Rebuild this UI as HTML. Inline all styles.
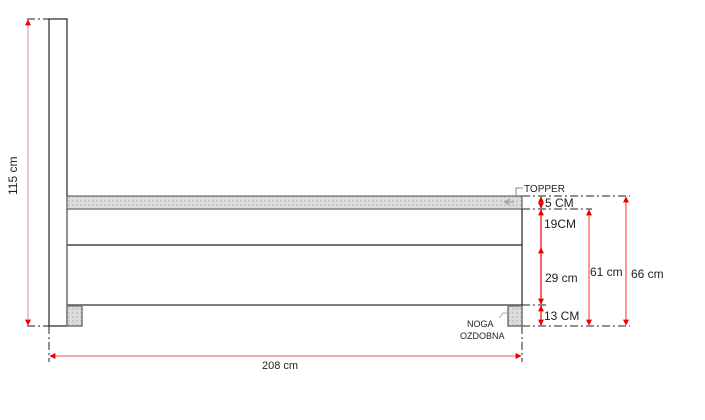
<!DOCTYPE html>
<html><head><style>body{margin:0;background:#fff}svg{display:block}text{font-family:"Liberation Sans",sans-serif}</style></head>
<body>
<svg width="705" height="420" viewBox="0 0 705 420" xmlns="http://www.w3.org/2000/svg">
<defs>
<pattern id="dots" width="4" height="4" patternUnits="userSpaceOnUse"><rect width="4" height="4" fill="#dcdcdc"/><circle cx="1" cy="1" r="0.6" fill="#999"/></pattern>
<marker id="ah" viewBox="0 0 10 10" refX="9" refY="5" markerWidth="7" markerHeight="6" markerUnits="userSpaceOnUse" orient="auto-start-reverse"><path d="M0,0 L10,5 L0,10z" fill="#e00"/></marker>
</defs>
<g stroke="#222" stroke-width="1" fill="none" stroke-dasharray="8,3,2,3">
<line x1="27" y1="19" x2="49" y2="19"/>
<line x1="27" y1="326" x2="49" y2="326"/>
<line x1="49" y1="326" x2="49" y2="362"/>
<line x1="522" y1="326" x2="522" y2="362"/>
<line x1="522" y1="196" x2="630" y2="196"/>
<line x1="522" y1="209" x2="592" y2="209"/>
<line x1="522" y1="305" x2="548" y2="305"/>
<line x1="522" y1="326" x2="630" y2="326"/>
</g>
<rect x="49" y="19" width="18" height="307" fill="#fff" stroke="#222" stroke-width="1.2"/>
<rect x="67" y="196" width="455" height="13" fill="url(#dots)" stroke="#666" stroke-width="1.2"/>
<line x1="67" y1="245" x2="522" y2="245" stroke="#222" stroke-width="1.2"/>
<line x1="67" y1="305" x2="522" y2="305" stroke="#555" stroke-width="1.5"/>
<line x1="522" y1="209" x2="522" y2="326" stroke="#222" stroke-width="1.2"/>
<line x1="67" y1="209" x2="67" y2="326" stroke="#666" stroke-width="1.2"/>
<rect x="67" y="306" width="15" height="20" fill="url(#dots)" stroke="#777" stroke-width="1.5"/>
<rect x="508" y="306" width="14" height="20" fill="url(#dots)" stroke="#777" stroke-width="1.5"/>
<g stroke="#e33" stroke-width="1" fill="none">
<line x1="28" y1="20" x2="28" y2="325" marker-start="url(#ah)" marker-end="url(#ah)" stroke="#e88"/>
<line x1="50" y1="356" x2="521" y2="356" marker-start="url(#ah)" marker-end="url(#ah)" stroke="#e55"/>
<line x1="541" y1="197" x2="541" y2="208" marker-start="url(#ah)" marker-end="url(#ah)" stroke-width="1.5"/>
<line x1="541" y1="210" x2="541" y2="304" marker-start="url(#ah)" marker-end="url(#ah)" stroke-width="1.5"/>
<line x1="541" y1="256" x2="541" y2="248" marker-end="url(#ah)"/>
<line x1="541" y1="306" x2="541" y2="325" marker-start="url(#ah)" marker-end="url(#ah)" stroke-width="1.5"/>
<line x1="589" y1="210" x2="589" y2="325" marker-start="url(#ah)" marker-end="url(#ah)"/>
<line x1="626" y1="197" x2="626" y2="325" marker-start="url(#ah)" marker-end="url(#ah)"/>
</g>
<path d="M505,202 L514,202 M510,199 L505,202 L510,205" stroke="#999" fill="none"/>
<path d="M516,196 L516,188 L523,188" stroke="#888" fill="none"/>
<path d="M499,318 L503,313 L508,313" stroke="#aaa" fill="none"/>
<text x="524" y="192" font-size="10" fill="#222">TOPPER</text>
<text x="545" y="207" font-size="12" fill="#222">5 CM</text>
<text x="544" y="228" font-size="12" fill="#222">19CM</text>
<text x="545" y="282" font-size="12" fill="#222">29 cm</text>
<text x="590" y="276" font-size="12" fill="#222">61 cm</text>
<text x="631" y="278" font-size="12" fill="#222">66 cm</text>
<text x="544" y="320" font-size="12" fill="#222">13 CM</text>
<text x="467" y="327" font-size="9" fill="#222">NOGA</text>
<text x="460" y="339" font-size="9" fill="#222">OZDOBNA</text>
<text x="262" y="369" font-size="11" fill="#222">208 cm</text>
<text transform="translate(17,195) rotate(-90)" font-size="12" fill="#222">115 cm</text>
</svg>
</body></html>
